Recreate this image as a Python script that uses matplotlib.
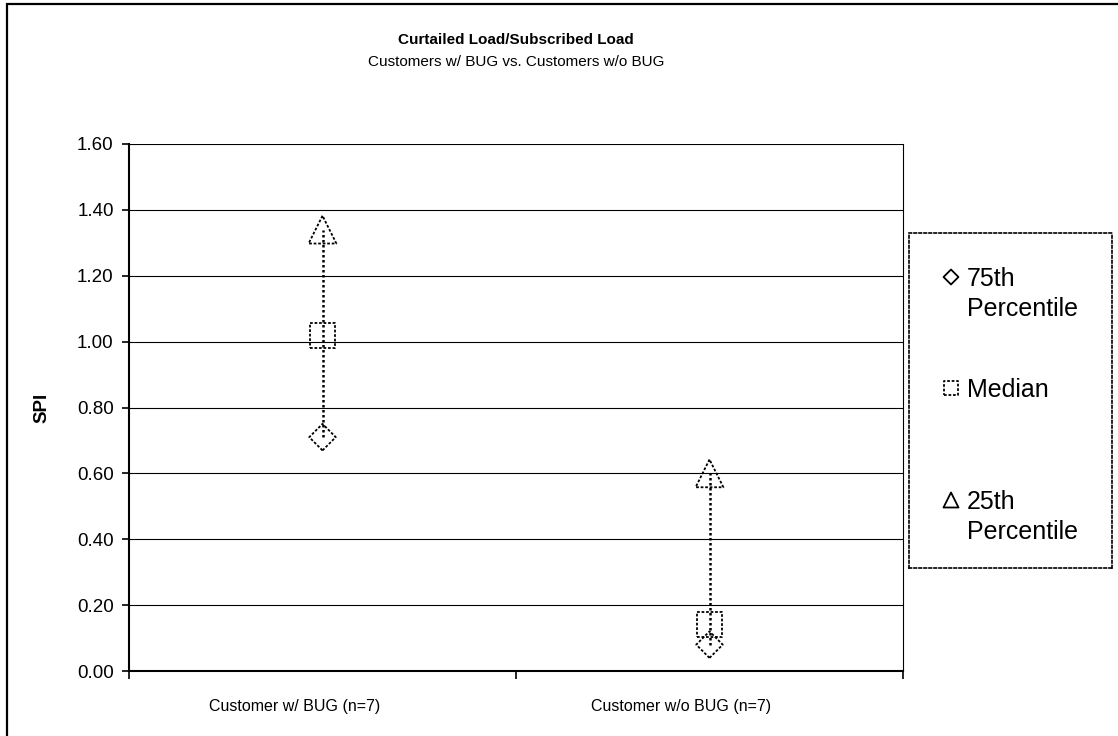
import numpy as np
import matplotlib
matplotlib.use("Agg")
import matplotlib.pyplot as plt
import matplotlib.transforms as mtransforms
from matplotlib.patches import Rectangle

plt.rcParams["font.family"] = ["Liberation Sans", "DejaVu Sans"]

# data
groups = ["Customer w/ BUG (n=7)", "Customer w/o BUG (n=7)"]
p75 = [0.71, 0.08]
median = [1.02, 0.14]
p25 = [1.34, 0.60]
y_ticks = [0.0, 0.2, 0.4, 0.6, 0.8, 1.0, 1.2, 1.4, 1.6]
series_names = [["75th", "Percentile"], ["Median"], ["25th", "Percentile"]]
series_markers = ["D", "s", "^"]

W, H = 1118, 736
fig = plt.figure(figsize=(W / 100, H / 100), dpi=100)
ax = fig.add_axes([129 / W, 1 - 671 / H, (903 - 129) / W, (671 - 144) / H])

x = np.arange(len(groups))

# high-low lines
lo = np.minimum(np.minimum(p75, median), p25)
hi = np.maximum(np.maximum(p75, median), p25)
ax.vlines(x, lo, hi, colors="black", linestyles=(0, (1, 1)), lw=1.8, zorder=3)

kw = dict(facecolors="none", edgecolors="black", linewidths=1.3,
          linestyles=(0, (1.5, 1)), zorder=4)
marker_sizes = [13.5, 18, 20]
for vals, m, ms in zip([p75, median, p25], series_markers, marker_sizes):
    ax.scatter(x, vals, marker=m, s=ms ** 2, **kw)

ax.set_xlim(-0.5, len(groups) - 0.5)
ax.set_ylim(0, 1.6)
ax.set_yticks(y_ticks)
ax.set_yticklabels([f"{v:.2f}" for v in y_ticks], fontsize=13.5)
ax.yaxis.grid(True, color="black", lw=0.8)
ax.set_axisbelow(True)

ax.set_xticks(x)
ax.set_xticklabels(groups, fontsize=11.5)
ax.tick_params(axis="x", length=0, pad=20)
shift = mtransforms.ScaledTranslation(-0.28, 0, fig.dpi_scale_trans)
for lab in ax.get_xticklabels():
    lab.set_transform(lab.get_transform() + shift)
ax.set_xticks(np.arange(len(groups) + 1) - 0.5, minor=True)
ax.tick_params(axis="x", which="minor", length=6, width=1.2, direction="out")
ax.tick_params(axis="y", length=5, width=1.2, direction="out", pad=6)

for s in ["left", "bottom"]:
    ax.spines[s].set_linewidth(1.5)
ax.spines["top"].set_visible(False)
ax.spines["right"].set_linewidth(0.8)

ax.set_ylabel("SPI", fontsize=13.5, fontweight="bold")
ax.yaxis.set_label_coords((50 - 129) / (903 - 129), 0.5)

fig.text(516 / W, 1 - 40 / H, "Curtailed Load/Subscribed Load",
         ha="center", va="center", fontsize=11, fontweight="bold")
fig.text(516 / W, 1 - 62 / H, "Customers w/ BUG vs. Customers w/o BUG",
         ha="center", va="center", fontsize=11)

# legend box, laid out in figure pixels (Excel places the marker on the first line)
lax = fig.add_axes([909 / W, 1 - 568 / H, (1112 - 909) / W, (568 - 233) / H])
lax.set_xlim(909, 1112)
lax.set_ylim(568, 233)
lax.set_xticks([])
lax.set_yticks([])
for s in lax.spines.values():
    s.set_linestyle((0, (1.5, 1.5)))
    s.set_linewidth(1.2)
entry_y = [277, 388, 500]
leg_ms = [7.6, 9.4, 10.8]
leg_ls = ["solid", (0, (1.5, 1)), "solid"]
for names, m, ms, ls, ey in zip(series_names, series_markers, leg_ms, leg_ls, entry_y):
    lax.scatter([951], [ey], marker=m, s=ms ** 2, facecolors="none",
                edgecolors="black", linewidths=1.3, linestyles=ls, clip_on=False)
    for i, line in enumerate(names):
        lax.text(967, ey + 9 + 30 * i, line, fontsize=18, va="baseline", ha="left")

# outer chart border
fig.add_artist(Rectangle((7 / W, -0.1), 1.2, 1 - 4 / H + 0.1,
                         transform=fig.transFigure, fill=False,
                         edgecolor="black", lw=1.6))

fig.savefig("out.png", dpi=100)
